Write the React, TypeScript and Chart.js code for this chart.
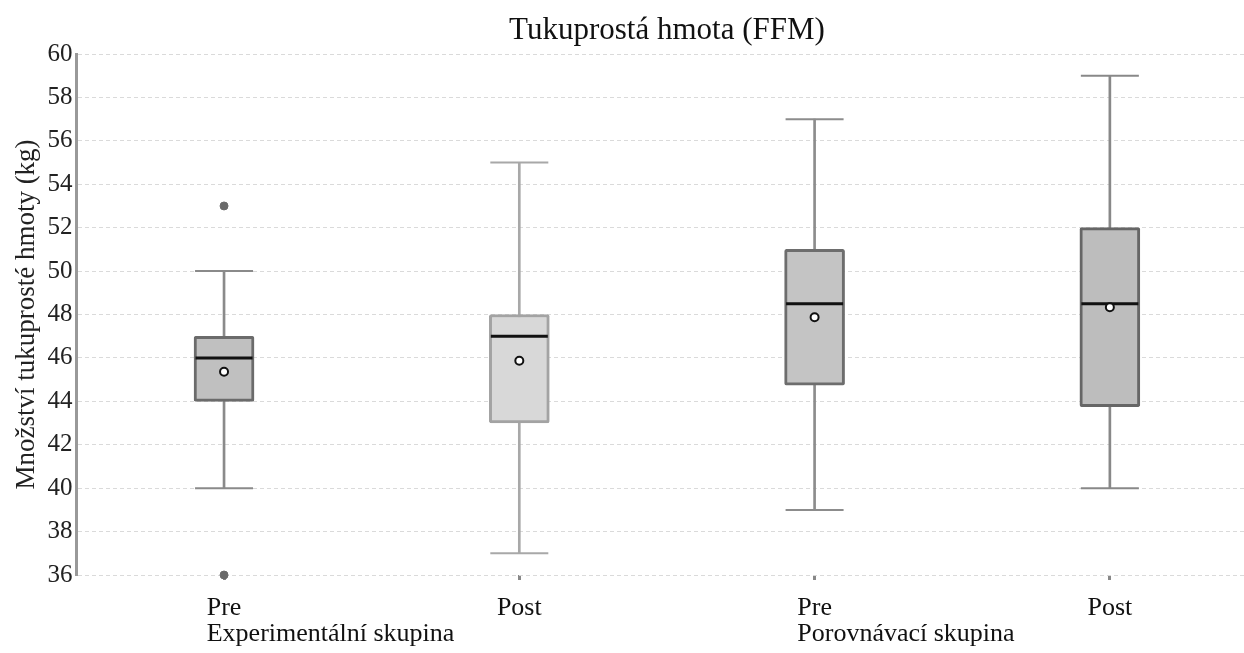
import React, { useEffect, useRef } from "react";
import { Chart, registerables } from "chart.js";

Chart.register(...registerables);

// Categories shown on the x axis and the group each pair belongs to
const categories = ["Pre", "Post", "Pre", "Post"];
const groupLabels = ["Experimentální skupina", "", "Porovnávací skupina", ""];
const chartTitle = "Tukuprostá hmota (FFM)";
const yTitle = "Množství tukuprosté hmoty (kg)";

// Box-plot statistics (kg)
const whiskerLow = [40, 37, 39, 40];
const whiskerHigh = [50, 55, 57, 59];
const q1 = [44, 43, 44.75, 43.75];
const q3 = [47, 48, 51, 52];
const medians = [46, 47, 48.5, 48.5];
const means = [45.36, 45.87, 47.87, 48.33];
const outliersHigh = [53, null, null, null];
const outliersLow = [36, null, null, null];

// Y axis ticks
const yMin = 36;
const yMax = 60;
const yStep = 2;

const boxFill = ["#c0c0c0", "#d8d8d8", "#c4c4c4", "#bdbdbd"];
const boxBorder = ["#6b6b6b", "#a3a3a3", "#6d6d6d", "#666666"];
const whiskerColor = ["#8a8a8a", "#a8a8a8", "#8c8c8c", "#888888"];

const FONT = '"Liberation Serif", "Times New Roman", serif';
const X_FONT_SIZE = 26;
const X_LINE_HEIGHT = 1.0;
const TICK_LEN = 5;
const TICK_PAD = 15;
const X_AXIS_HEIGHT = 78;
const CANVAS_W = 1289;
const CANVAS_H = 653;

// Title above the plot area and group names under the Pre/Post labels
const textPlugin = {
  id: "extraText",
  afterDraw(chart: any) {
    const xs = chart.scales.x;
    const area = chart.chartArea;
    const ctx = chart.ctx;
    ctx.save();
    ctx.fillStyle = "#111";

    ctx.font = `31px ${FONT}`;
    ctx.textAlign = "center";
    ctx.textBaseline = "middle";
    ctx.fillText(chartTitle, (area.left + area.right) / 2, 30.5);

    ctx.font = `${X_FONT_SIZE}px ${FONT}`;
    ctx.textAlign = "left";
    const lineH = X_FONT_SIZE * X_LINE_HEIGHT;
    const y = xs.top + TICK_LEN + TICK_PAD + lineH / 2 + lineH;
    groupLabels.forEach((g, i) => {
      if (!g) return;
      const cx = xs.getPixelForTick(i);
      const w = ctx.measureText(categories[i]).width;
      ctx.fillText(g, cx - w / 2, y);
    });
    ctx.restore();
  },
};

export default function App() {
  const canvasRef = useRef<HTMLCanvasElement | null>(null);

  useEffect(() => {
    const canvas = canvasRef.current;
    if (!canvas) return;

    const pointSet = (label: string, data: (number | null)[], extra: any) => ({
      type: "line",
      label,
      data,
      showLine: false,
      clip: false,
      ...extra,
    });

    const chart = new Chart(canvas, {
      type: "bar",
      data: {
        labels: categories.map((c, i) => `${c}-${i}`),
        datasets: [
          {
            type: "bar",
            label: "whisker",
            data: whiskerLow.map((lo, i) => [lo, whiskerHigh[i]]),
            backgroundColor: whiskerColor,
            borderWidth: 0,
            barThickness: 2,
            grouped: false,
            order: 6,
          } as any,
          {
            type: "bar",
            label: "box",
            data: q1.map((lo, i) => [lo, q3[i]]),
            backgroundColor: boxFill,
            borderColor: boxBorder,
            borderWidth: 3,
            borderSkipped: false,
            borderRadius: 2,
            barThickness: 60,
            grouped: false,
            order: 5,
          } as any,
          pointSet("caps-low", whiskerLow, {
            pointStyle: "line",
            pointRadius: 29,
            pointBorderWidth: 2,
            pointBorderColor: whiskerColor,
            order: 4,
          }),
          pointSet("caps-high", whiskerHigh, {
            pointStyle: "line",
            pointRadius: 29,
            pointBorderWidth: 2,
            pointBorderColor: whiskerColor,
            order: 4,
          }),
          pointSet("median", medians, {
            pointStyle: "line",
            pointRadius: 28.5,
            pointBorderWidth: 3,
            pointBorderColor: "#111111",
            order: 3,
          }),
          pointSet("mean", means, {
            pointStyle: "circle",
            pointRadius: 4,
            pointBorderWidth: 2,
            pointBackgroundColor: "#ffffff",
            pointBorderColor: "#111111",
            order: 2,
          }),
          pointSet("outliers-high", outliersHigh, {
            pointStyle: "circle",
            pointRadius: 4,
            pointBorderWidth: 1,
            pointBackgroundColor: "#6a6a6a",
            pointBorderColor: "#6a6a6a",
            order: 1,
          }),
          pointSet("outliers-low", outliersLow, {
            pointStyle: "circle",
            pointRadius: 4,
            pointBorderWidth: 1,
            pointBackgroundColor: "#6a6a6a",
            pointBorderColor: "#6a6a6a",
            order: 1,
          }),
        ],
      },
      options: {
        responsive: false,
        animation: false,
        layout: { padding: { top: 54, right: 0, bottom: 0, left: 0 } },
        plugins: {
          legend: { display: false },
          tooltip: { enabled: false },
          title: { display: false },
        },
        scales: {
          x: {
            type: "category",
            offset: true,
            border: { display: false },
            grid: {
              display: true,
              drawOnChartArea: false,
              drawTicks: true,
              offset: false,
              tickLength: TICK_LEN,
              tickWidth: 3,
              tickColor: "#888888",
            },
            ticks: {
              color: "#111",
              padding: TICK_PAD,
              maxRotation: 0,
              autoSkip: false,
              font: { family: FONT, size: X_FONT_SIZE, lineHeight: X_LINE_HEIGHT },
              callback: (_v: any, i: number) => [categories[i], ""],
            },
            afterFit: (scale: any) => {
              scale.height = X_AXIS_HEIGHT;
            },
          },
          y: {
            min: yMin,
            max: yMax,
            border: { display: true, color: "#999999", width: 3, dash: [4, 3] },
            grid: {
              color: "#dadada",
              lineWidth: 1,
              drawTicks: false,
            },
            ticks: {
              stepSize: yStep,
              color: "#222",
              padding: 4,
              font: { family: FONT, size: 25 },
            },
            title: {
              display: true,
              text: yTitle,
              color: "#222",
              font: { family: FONT, size: 27 },
              padding: { top: 11, bottom: 0 },
            },
          },
        },
      },
      plugins: [textPlugin],
    } as any);

    return () => chart.destroy();
  }, []);

  return (
    <div
      style={{
        position: "fixed",
        left: 0,
        top: 0,
        width: 1244,
        height: 653,
        overflow: "hidden",
        background: "#ffffff",
      }}
    >
      <canvas
        ref={canvasRef}
        width={CANVAS_W}
        height={CANVAS_H}
        style={{ display: "block", width: CANVAS_W, height: CANVAS_H }}
      />
    </div>
  );
}
